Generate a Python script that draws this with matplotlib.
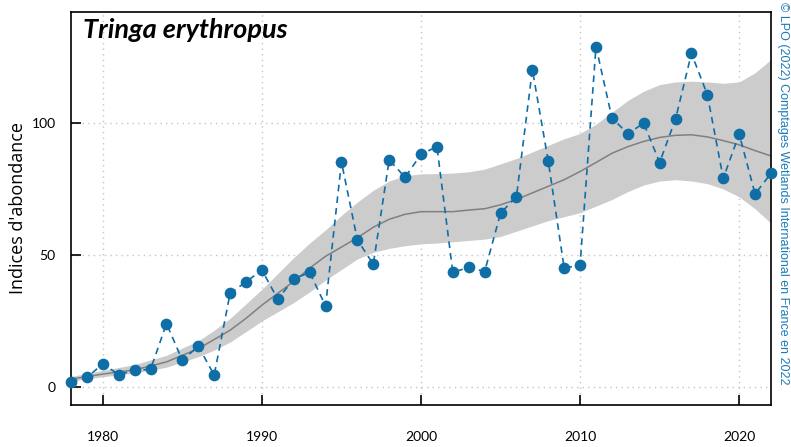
import numpy as np
import matplotlib
matplotlib.use("Agg")
import matplotlib.pyplot as plt

# Annual abundance indices
years = list(range(1978, 2023))
indices = [1.8, 3.7, 8.7, 4.7, 6.3, 6.7, 24.0, 10.1, 15.5, 4.5,
           35.5, 39.8, 44.3, 33.2, 40.9, 43.4, 30.7, 85.2, 55.7, 46.5,
           86.0, 79.4, 88.1, 91.0, 43.4, 45.3, 43.7, 65.8, 72.1, 120.2,
           85.5, 45.0, 46.2, 128.9, 101.9, 95.9, 99.9, 85.0, 101.5, 126.3,
           110.7, 79.0, 95.8, 73.1, 80.9]

# Smoothed trend with its confidence band
trend_years = [1978, 1980, 1982, 1984, 1985, 1986, 1987, 1988, 1989, 1990,
               1991, 1992, 1993, 1994, 1995, 1996, 1997, 1998, 1999, 2000,
               2001, 2002, 2003, 2004, 2005, 2006, 2007, 2008, 2009, 2010,
               2011, 2012, 2013, 2014, 2015, 2016, 2017, 2018, 2019, 2020,
               2021, 2022]
trend = [3.0, 4.9, 6.5, 9.5, 12.0, 14.5, 18.0, 21.5, 26.0, 31.0,
         35.5, 40.0, 45.0, 49.5, 53.0, 56.5, 60.5, 63.5, 65.4, 66.4,
         66.4, 66.4, 67.0, 67.5, 69.0, 71.0, 73.5, 76.0, 78.5, 81.6,
         85.0, 88.5, 91.0, 93.0, 94.5, 95.3, 95.5, 94.7, 93.3, 91.7,
         89.5, 87.5]
lower = [2.3, 3.9, 5.3, 7.5, 9.5, 11.5, 14.0, 17.0, 21.0, 25.0,
         28.5, 32.0, 36.0, 40.5, 44.5, 48.5, 51.0, 52.5, 53.5, 54.2,
         54.5, 55.0, 55.5, 56.0, 57.0, 59.0, 61.0, 63.0, 64.5, 66.0,
         68.5, 71.0, 74.0, 76.5, 78.0, 78.5, 78.0, 77.0, 75.0, 72.0,
         67.5, 62.0]
upper = [4.0, 6.3, 8.5, 12.0, 14.8, 17.5, 21.5, 26.0, 31.5, 37.0,
         43.0, 49.0, 54.5, 59.5, 65.0, 70.0, 74.5, 78.0, 80.0, 80.7,
         80.8, 81.0, 81.5, 82.5, 84.5, 86.5, 89.0, 91.5, 94.0, 96.0,
         99.5, 104.0, 108.5, 112.0, 114.5, 115.5, 115.8, 115.5, 115.0, 115.5,
         119.0, 124.0]

xticks = [1980, 1990, 2000, 2010, 2020]
yticks = [0, 50, 100]

blue = "#0f6ea6"

fig = plt.figure(figsize=(7.91, 4.47), dpi=100)
ax = fig.add_axes([0.0898, 0.094, 0.8849, 0.8792])

ax.fill_between(trend_years, lower, upper, color="#cccccc", lw=0, zorder=1)
ax.plot(trend_years, trend, color="#808080", lw=1.1, zorder=2)
ax.plot(years, indices, color=blue, ls=(0, (4, 3)), lw=1.2,
        marker="o", ms=7.4, mec=blue, mfc=blue, zorder=3, clip_on=False)

ax.set_xlim(1978, 2022)
ax.set_ylim(-6.8, 142)
ax.set_xticks(xticks)
ax.set_yticks(yticks)
ax.grid(True, color="#c4c4c4", ls=(0, (1, 3)), lw=1)
ax.set_axisbelow(True)

for s in ax.spines.values():
    s.set_linewidth(1.2)
ax.tick_params(direction="in", length=7, width=1.2, labelsize=10,
               colors="black")
ax.tick_params(axis="x", pad=19)
ax.tick_params(axis="y", pad=11)
for lab in ax.get_xticklabels() + ax.get_yticklabels():
    lab.set_fontfamily("Lato")

ax.set_ylabel("Indices d'abondance", fontsize=13, family="Open Sans",
              labelpad=3)
ax.text(0.017, 0.985, "Tringa erythropus", transform=ax.transAxes,
        fontsize=19.5, fontweight="bold", fontstyle="italic", family="Lato",
        ha="left", va="top")
fig.text(0.99, 0.995, "© LPO (2022) Comptages Wetlands International en France en 2022",
         rotation=-90, ha="center", va="top", fontsize=9, color="#1a7bb8",
         family="Liberation Sans")

fig.savefig("out.png", dpi=100)
